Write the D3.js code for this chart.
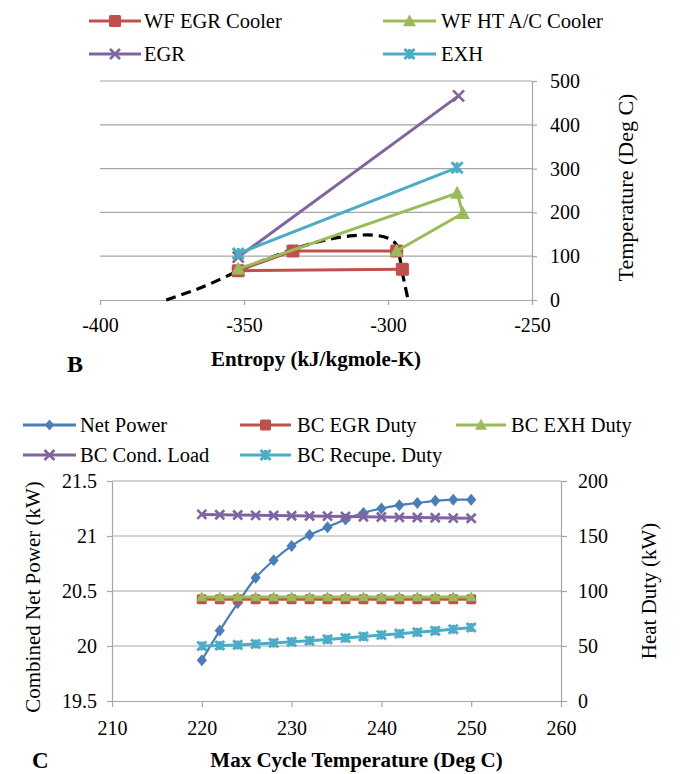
<!DOCTYPE html>
<html>
<head>
<meta charset="utf-8">
<script src="https://cdn.jsdelivr.net/npm/d3@7"></script>
<style>
  html, body { margin: 0; padding: 0; background: #fff; }
  svg { display: block; }
  text { font-family: "Liberation Serif", "Times New Roman", serif; fill: #000; }
</style>
</head>
<body>
<svg id="fig" width="682" height="774"></svg>
<script>
// ---------- Panel B: T-s diagram ----------
const tsSeriesNames = ["WF EGR Cooler", "WF HT A/C Cooler", "EGR", "EXH"];
// [entropy kJ/kgmole-K, temperature deg C]
const wfEgrCooler = [[-295, 70], [-352, 67], [-333, 112], [-297, 112]];
const wfHtAcCooler = [[-297, 112], [-274, 198], [-276, 244], [-352, 71]];
const egrStream = [[-352, 98], [-275.5, 466]];
const exhStream = [[-352, 106], [-276, 302]];
// saturation dome of the working fluid
const satDome = [[-377, 0], [-365, 28], [-352, 66], [-341, 96], [-331, 120], [-321, 138],
                 [-312, 147], [-305, 148], [-300, 141], [-297, 126], [-296, 100], [-295, 62],
                 [-294, 30], [-293, 0]];
const entropyTicks = [-400, -350, -300, -250];
const tempTicks = [0, 100, 200, 300, 400, 500];

// ---------- Panel C: parametric sweep ----------
const cSeriesNames = ["Net Power", "BC EGR Duty", "BC EXH Duty", "BC Cond. Load", "BC Recupe. Duty"];
const maxCycleTemp = [220, 222, 224, 226, 228, 230, 232, 234, 236, 238, 240, 242, 244, 246, 248, 250];
const netPower = [19.87, 20.14, 20.39, 20.62, 20.78, 20.91, 21.01, 21.08, 21.15, 21.21, 21.25, 21.28, 21.30, 21.32, 21.33, 21.33];
const bcEgrDuty = [92.5, 92.5, 92.5, 92.5, 92.5, 92.5, 92.5, 92.5, 92.5, 92.5, 92.5, 92.5, 92.5, 92.5, 92.5, 92.5];
const bcExhDuty = [94.6, 94.6, 94.6, 94.6, 94.6, 94.6, 94.6, 94.6, 94.6, 94.6, 94.6, 94.6, 94.6, 94.6, 94.6, 94.6];
const bcCondLoad = [169.6, 169.3, 169.1, 168.8, 168.6, 168.4, 168.2, 168.0, 167.7, 167.5, 167.3, 167.0, 166.8, 166.6, 166.3, 166.1];
const bcRecupeDuty = [50.0, 50.5, 51.0, 51.8, 52.8, 53.8, 54.8, 56.0, 57.3, 58.6, 60.0, 61.2, 62.5, 63.8, 65.2, 66.8];
const powerTicks = [19.5, 20, 20.5, 21, 21.5];
const dutyTicks = [0, 50, 100, 150, 200];
const cycleTempTicks = [210, 220, 230, 240, 250, 260];

// ---------- styling ----------
const COL = { blue: "#4A7EBB", red: "#C0504D", green: "#9BBB59", purple: "#8064A2", cyan: "#4BACC6" };
const GRID = "#a6a6a6";
const svg = d3.select("#fig");

// marker drawing (Excel-like glyphs)
function drawMarker(g, type, cx, cy, size, color) {
  const h = size / 2;
  if (type === "square") {
    g.append("rect").attr("x", cx - h).attr("y", cy - h).attr("width", size).attr("height", size)
      .attr("rx", 1.5).attr("fill", color);
  } else if (type === "triangle") {
    g.append("path").attr("d", `M${cx},${cy - h * 1.05}L${cx + h},${cy + h * 0.8}L${cx - h},${cy + h * 0.8}Z`)
      .attr("fill", color);
  } else if (type === "diamond") {
    g.append("path").attr("d", `M${cx},${cy - h}L${cx + h * 0.85},${cy}L${cx},${cy + h}L${cx - h * 0.85},${cy}Z`)
      .attr("fill", color);
  } else if (type === "x") {
    g.append("path").attr("d", `M${cx - h},${cy - h}L${cx + h},${cy + h}M${cx + h},${cy - h}L${cx - h},${cy + h}`)
      .attr("stroke", color).attr("stroke-width", 2.6).attr("fill", "none");
  } else if (type === "star") {
    g.append("path").attr("d", `M${cx - h},${cy - h}L${cx + h},${cy + h}M${cx + h},${cy - h}L${cx - h},${cy + h}M${cx},${cy - h}L${cx},${cy + h}`)
      .attr("stroke", color).attr("stroke-width", 3).attr("fill", "none");
  }
}

function styleAxis(g) {
  g.attr("font-family", null);
  g.selectAll(".domain").attr("stroke", GRID).attr("stroke-width", 1.2);
  g.selectAll(".tick line").attr("stroke", GRID).attr("stroke-width", 1.2);
  g.selectAll(".tick text").style("font-family", '"Liberation Serif", "Times New Roman", serif').style("font-size", "20px").attr("fill", "#000");
}

function legendEntry(g, x1, x2, tx, y, color, marker, size, label) {
  g.append("line").attr("x1", x1).attr("x2", x2).attr("y1", y).attr("y2", y)
    .attr("stroke", color).attr("stroke-width", 3);
  drawMarker(g, marker, (x1 + x2) / 2, y, size, color);
  g.append("text").attr("x", tx).attr("y", y).attr("dy", "0.35em")
    .style("font-size", "20.5px").text(label);
}

// ===================== Panel B =====================
{
  const x = d3.scaleLinear().domain([-400, -250]).range([100, 532]);
  const y = d3.scaleLinear().domain([0, 500]).range([300, 81]);
  const g = svg.append("g");

  // horizontal gridlines
  g.append("g").selectAll("line").data(tempTicks.filter(t => t > 0)).join("line")
    .attr("x1", x(-400)).attr("x2", x(-250)).attr("y1", d => y(d)).attr("y2", d => y(d))
    .attr("stroke", GRID).attr("stroke-width", 1.2);

  const ax = g.append("g").attr("transform", `translate(0,${y(0)})`)
    .call(d3.axisBottom(x).tickValues(entropyTicks).tickFormat(d => String(d)).tickSize(5).tickSizeOuter(0).tickPadding(13));
  styleAxis(ax);

  const ay = g.append("g").attr("transform", `translate(${x(-250)},0)`)
    .call(d3.axisRight(y).tickValues(tempTicks).tickFormat(d => String(d)).tickSize(5).tickSizeOuter(0).tickPadding(13));
  styleAxis(ay);

  const line = d3.line().x(d => x(d[0])).y(d => y(d[1]));

  // saturation dome
  g.append("path").datum(satDome)
    .attr("d", d3.line().x(d => x(d[0])).y(d => y(d[1])).curve(d3.curveCatmullRom.alpha(0.5)))
    .attr("fill", "none").attr("stroke", "#000").attr("stroke-width", 3.2).attr("stroke-dasharray", "10,6");

  const series = [
    { data: wfEgrCooler, color: COL.red, marker: "square", size: 13 },
    { data: wfHtAcCooler, color: COL.green, marker: "triangle", size: 14 },
    { data: egrStream, color: COL.purple, marker: "x", size: 11 },
    { data: exhStream, color: COL.cyan, marker: "star", size: 11 }
  ];
  series.forEach(s => {
    const sg = g.append("g");
    sg.append("path").datum(s.data).attr("d", line).attr("fill", "none")
      .attr("stroke", s.color).attr("stroke-width", 3).attr("stroke-linejoin", "round");
    s.data.forEach(d => drawMarker(sg, s.marker, x(d[0]), y(d[1]), s.size, s.color));
  });

  // legend
  const lg = g.append("g");
  legendEntry(lg, 89, 141, 144, 21, COL.red, "square", 12, tsSeriesNames[0]);
  legendEntry(lg, 383, 436, 441, 21, COL.green, "triangle", 13, tsSeriesNames[1]);
  legendEntry(lg, 89, 141, 144, 54, COL.purple, "x", 10, tsSeriesNames[2]);
  legendEntry(lg, 383, 436, 441, 54, COL.cyan, "star", 10, tsSeriesNames[3]);

  // titles
  g.append("text").attr("x", (x(-400) + x(-250)) / 2).attr("y", 366).attr("text-anchor", "middle")
    .style("font-size", "21px").style("font-weight", "bold").text("Entropy (kJ/kgmole-K)");
  g.append("text").attr("transform", `translate(633,${(y(0) + y(500)) / 2 - 3}) rotate(-90)`)
    .attr("text-anchor", "middle").style("font-size", "22px").text("Temperature (Deg C)");
  g.append("text").attr("x", 67).attr("y", 372).style("font-size", "24px").style("font-weight", "bold").text("B");
}

// ===================== Panel C =====================
{
  const x = d3.scaleLinear().domain([210, 260]).range([112, 561]);
  const yL = d3.scaleLinear().domain([19.5, 21.5]).range([701, 481]);
  const yR = d3.scaleLinear().domain([0, 200]).range([701, 481]);
  const g = svg.append("g");

  g.append("g").selectAll("line").data(powerTicks.filter(t => t > 19.5)).join("line")
    .attr("x1", x(210)).attr("x2", x(260)).attr("y1", d => yL(d)).attr("y2", d => yL(d))
    .attr("stroke", GRID).attr("stroke-width", 1.2);

  const ax = g.append("g").attr("transform", `translate(0,${yL(19.5)})`)
    .call(d3.axisBottom(x).tickValues(cycleTempTicks).tickFormat(d => String(d)).tickSize(6).tickSizeOuter(0).tickPadding(14));
  styleAxis(ax);
  const ayl = g.append("g").attr("transform", `translate(${x(210)},0)`)
    .call(d3.axisLeft(yL).tickValues(powerTicks).tickFormat(d => String(d)).tickSize(5).tickSizeOuter(0).tickPadding(10));
  styleAxis(ayl);
  const ayr = g.append("g").attr("transform", `translate(${x(260)},0)`)
    .call(d3.axisRight(yR).tickValues(dutyTicks).tickFormat(d => String(d)).tickSize(6).tickSizeOuter(0).tickPadding(11));
  styleAxis(ayr);

  // net power on the primary axis (smoothed)
  const pg = g.append("g");
  pg.append("path").datum(maxCycleTemp.map((t, i) => [t, netPower[i]]))
    .attr("d", d3.line().x(d => x(d[0])).y(d => yL(d[1])).curve(d3.curveCatmullRom.alpha(0.5)))
    .attr("fill", "none").attr("stroke", COL.blue).attr("stroke-width", 2.2);
  maxCycleTemp.forEach((t, i) => drawMarker(pg, "diamond", x(t), yL(netPower[i]), 12, COL.blue));

  // duties on the secondary axis
  const duties = [
    { vals: bcEgrDuty, color: COL.red, marker: "square", size: 10 },
    { vals: bcExhDuty, color: COL.green, marker: "triangle", size: 11 },
    { vals: bcCondLoad, color: COL.purple, marker: "x", size: 9 },
    { vals: bcRecupeDuty, color: COL.cyan, marker: "star", size: 9 }
  ];
  duties.forEach(s => {
    const sg = g.append("g");
    sg.append("path").datum(maxCycleTemp.map((t, i) => [t, s.vals[i]]))
      .attr("d", d3.line().x(d => x(d[0])).y(d => yR(d[1])))
      .attr("fill", "none").attr("stroke", s.color).attr("stroke-width", 3);
    maxCycleTemp.forEach((t, i) => drawMarker(sg, s.marker, x(t), yR(s.vals[i]), s.size, s.color));
  });

  // legend
  const lg = g.append("g");
  legendEntry(lg, 23, 76, 80, 425, COL.blue, "diamond", 11, cSeriesNames[0]);
  legendEntry(lg, 240, 291, 297, 425, COL.red, "square", 11, cSeriesNames[1]);
  legendEntry(lg, 456, 506, 511, 425, COL.green, "triangle", 12, cSeriesNames[2]);
  legendEntry(lg, 23, 76, 80, 455, COL.purple, "x", 10, cSeriesNames[3]);
  legendEntry(lg, 240, 291, 297, 455, COL.cyan, "star", 10, cSeriesNames[4]);

  // titles
  g.append("text").attr("x", (x(210) + x(260)) / 2 + 20).attr("y", 767).attr("text-anchor", "middle")
    .style("font-size", "21px").style("font-weight", "bold").text("Max Cycle Temperature (Deg C)");
  g.append("text").attr("transform", `translate(40,${(yL(19.5) + yL(21.5)) / 2 + 6}) rotate(-90)`)
    .attr("text-anchor", "middle").style("font-size", "21px").text("Combined Net Power (kW)");
  g.append("text").attr("transform", `translate(656,${(yR(0) + yR(200)) / 2}) rotate(-90)`)
    .attr("text-anchor", "middle").style("font-size", "21px").text("Heat Duty (kW)");
  g.append("text").attr("x", 32).attr("y", 768).style("font-size", "23px").style("font-weight", "bold").text("C");
}
</script>
</body>
</html>
